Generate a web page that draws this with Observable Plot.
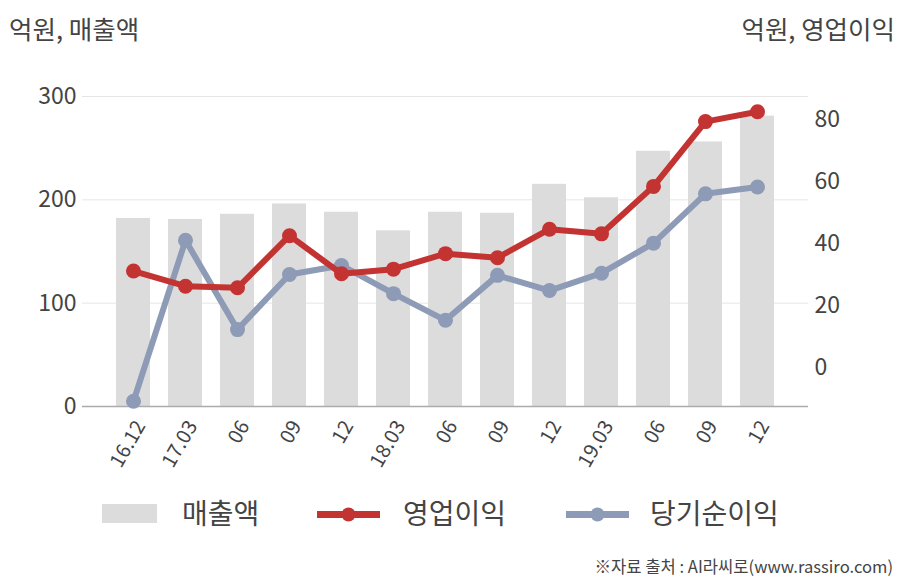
<!DOCTYPE html>
<html>
<head>
<meta charset="utf-8">
<script src="https://cdn.jsdelivr.net/npm/d3@7"></script>
<script src="https://cdn.jsdelivr.net/npm/@observablehq/plot@0.6"></script>
<style>
  html, body { margin: 0; padding: 0; background: #fff; }
  #wrap { position: relative; width: 908px; height: 580px; overflow: hidden;
          font-family: 'Noto Sans CJK KR', 'Noto Sans', sans-serif; color: #444; }
  #chart { position: absolute; left: 0; top: 0; }
  .lbl { position: absolute; white-space: nowrap; line-height: 1; }
</style>
</head>
<body>
<div id="wrap">
  <div id="chart"></div>
  <div class="lbl" style="left:9px; top:15px; font-size:25.5px;">억원, 매출액</div>
  <div class="lbl" style="right:13px; top:15px; font-size:25.5px;">억원, 영업이익</div>
  <div id="legend"></div>
  <div class="lbl" style="right:15px; top:558px; font-size:16.6px; color:#444;">※자료 출처 : AI라씨로(www.rassiro.com)</div>
</div>
<script>
// ---- data ----
const categories = ["16.12","17.03","06","09","12","18.03","06","09","12","19.03","06","09","12"];
const sales      = [182, 181, 186, 196, 188, 170, 188, 187, 215, 202, 247, 256, 281];      // 매출액 (left axis)
const opProfit   = [31.2, 26.3, 25.8, 42.6, 30.3, 31.8, 36.8, 35.5, 44.7, 43.2, 58.5, 79.4, 82.6]; // 영업이익 (right axis)
const netProfit  = [-10.8, 41.1, 12.3, 30.1, 33.0, 23.9, 15.3, 29.8, 24.9, 30.5, 40.2, 56.1, 58.3]; // 당기순이익 (right axis)
const leftTicks  = [0, 100, 200, 300];
const rightTicks = [0, 20, 40, 60, 80];
const leftDomain = [0, 300];
const rightDomain = [-12.5, 87.5];

const seriesNames = ["매출액", "영업이익", "당기순이익"];
const colors = {bar: "#dcdcdc", op: "#c23331", net: "#8e9bb6"};

// map right-axis values onto the left scale
const toLeft = v => (v - rightDomain[0]) * (leftDomain[1] - leftDomain[0]) / (rightDomain[1] - rightDomain[0]) + leftDomain[0];
const fromLeft = y => (y - leftDomain[0]) * (rightDomain[1] - rightDomain[0]) / (leftDomain[1] - leftDomain[0]) + rightDomain[0];

const idx = d3.range(categories.length);
const rows = idx.map(i => ({i, sales: sales[i], op: toLeft(opProfit[i]), net: toLeft(netProfit[i])}));

const chart = Plot.plot({
  width: 908,
  height: 480,
  marginTop: 96,
  marginBottom: 74,
  marginLeft: 82,
  marginRight: 100,
  style: {fontFamily: "'Noto Sans CJK KR', 'Noto Sans', sans-serif", color: "#444", background: "transparent"},
  x: {type: "band", domain: idx, paddingInner: 0.35, paddingOuter: 0.63},
  y: {domain: leftDomain},
  marks: [
    Plot.gridY(leftTicks.filter(t => t > 0), {stroke: "#e6e6e6", strokeOpacity: 1}),
    Plot.barY(rows, {x: "i", y: "sales", fill: colors.bar}),
    Plot.ruleY([0], {stroke: "#ababab", strokeWidth: 1.3}),
    Plot.line(rows, {x: "i", y: "net", stroke: colors.net, strokeWidth: 6, strokeLinejoin: "round"}),
    Plot.dot(rows, {x: "i", y: "net", r: 7.5, fill: colors.net}),
    Plot.line(rows, {x: "i", y: "op", stroke: colors.op, strokeWidth: 6, strokeLinejoin: "round"}),
    Plot.dot(rows, {x: "i", y: "op", r: 7.5, fill: colors.op}),
    Plot.axisY(leftTicks, {anchor: "left", tickSize: 0, tickPadding: 6, fontSize: 23, label: null}),
    Plot.axisY(rightTicks.map(toLeft), {anchor: "right", tickSize: 0, tickPadding: 6, fontSize: 23, label: null,
      tickFormat: d => String(Math.round(fromLeft(d)))}),
    Plot.axisX(idx, {tickSize: 0, tickPadding: 16, tickRotate: -60, fontSize: 20, dx: 7, label: null,
      tickFormat: i => categories[i]})
  ]
});
document.getElementById("chart").appendChild(chart);

// ---- legend (HTML) ----
const legend = document.getElementById("legend");
const items = [
  {name: seriesNames[0], kind: "bar", color: colors.bar, swLeft: 102, txtLeft: 182},
  {name: seriesNames[1], kind: "line", color: colors.op, swLeft: 317, txtLeft: 403},
  {name: seriesNames[2], kind: "line", color: colors.net, swLeft: 566, txtLeft: 650}
];
for (const it of items) {
  const sw = document.createElement("div");
  sw.style.position = "absolute";
  if (it.kind === "bar") {
    sw.style.left = it.swLeft + "px"; sw.style.top = "504px";
    sw.style.width = "55px"; sw.style.height = "19px"; sw.style.background = it.color;
  } else {
    sw.style.left = it.swLeft + "px"; sw.style.top = "504px";
    sw.innerHTML = `<svg width="63" height="22"><line x1="0" x2="63" y1="10.5" y2="10.5" stroke="${it.color}" stroke-width="7"/><circle cx="31.5" cy="10.5" r="7" fill="${it.color}"/></svg>`;
  }
  legend.appendChild(sw);
  const t = document.createElement("div");
  t.className = "lbl";
  t.style.left = it.txtLeft + "px"; t.style.top = "498px"; t.style.fontSize = "28px";
  t.textContent = it.name;
  legend.appendChild(t);
}
</script>
</body>
</html>
